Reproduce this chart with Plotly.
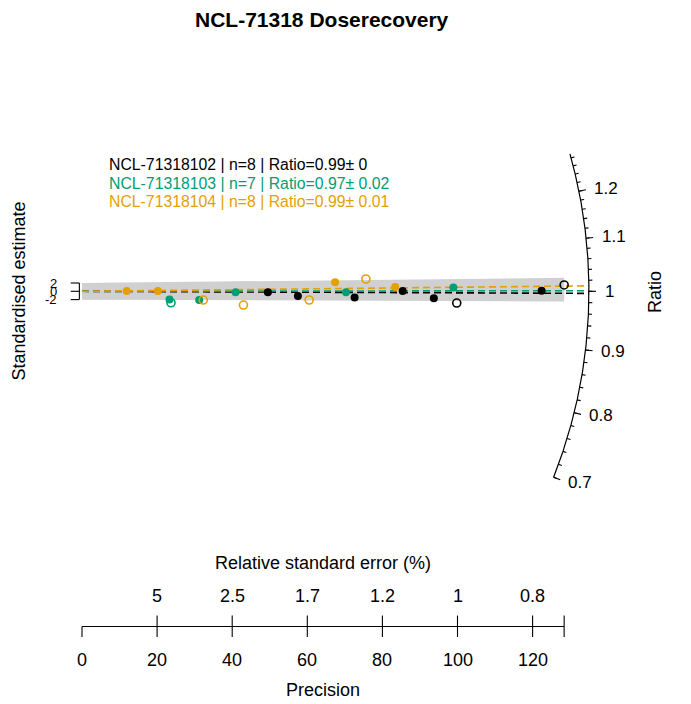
import numpy as np
import plotly.graph_objects as go

title = "NCL-71318 Doserecovery"
sample_names = ["NCL-71318102", "NCL-71318103", "NCL-71318104"]
sample_colors = ["black", "#009E73", "#E69F00"]
sample_n = [8, 7, 8]
ratio_mean = ["0.99", "0.97", "0.99"]
ratio_sd = ["0", "0.02", "0.01"]

# precision (1 / relative standard error), measured/given ratio, filled symbol or not
prec_102 = [49.5, 57.5, 72.6, 85.4, 93.7, 122.4, 99.8, 128.4]
ratio_102 = [0.995, 0.981, 0.980, 1.001, 0.982, 1.001, 0.972, 1.012]
filled_102 = [1, 1, 1, 1, 1, 1, 0, 0]

prec_103 = [23.3, 23.7, 31.2, 40.9, 70.3, 98.9]
ratio_103 = [0.919, 0.890, 0.935, 0.994, 0.9965, 1.009]
filled_103 = [1, 0, 1, 1, 1, 1]

prec_104 = [11.9, 20.2, 67.4, 83.4, 32.3, 43.0, 60.5, 75.6]
ratio_104 = [1.006, 1.0036, 1.033, 1.0126, 0.937, 0.926, 0.966, 1.040]
filled_104 = [1, 1, 1, 1, 0, 0, 0, 0]

# weighted central values (dashed lines)
central_ratio = [0.9963, 1.0011, 1.0098]
central_global = 1.0

# z-axis (ratio) ticks on the arc
z_major = [0.7, 0.8, 0.9, 1.0, 1.1, 1.2]
z_major_lab = ["0.7", "0.8", "0.9", "1", "1.1", "1.2"]
z_minor = list(np.round(np.arange(0.70, 1.2801, 0.02), 2))
z_arc_range = (0.70, 1.29)

# precision axis ticks
x_ticks = [0, 20, 40, 60, 80, 100, 120]

precs = [prec_102, prec_103, prec_104]
ratios = [ratio_102, ratio_103, ratio_104]
filleds = [filled_102, filled_103, filled_104]

OFF = 8                      # page body margin
W, H = 691 - OFF, 704 - OFF
x0_px, sx = 82.0 - OFF, 3.755   # px of precision 0, px per precision unit
y0_px, sy = 291.3 - OFF, 4.15   # px of standardised estimate 0, px per unit
R = 135.0                       # arc radius in precision units
f = sy / sx
z0 = np.log(central_global)

x_range = [-x0_px / sx, (W - x0_px) / sx]
y_range = [(y0_px - H) / sy, y0_px / sy]


def arc(r):
    d = np.log(np.asarray(r, dtype=float)) - z0
    x = R / np.sqrt(1 + (f * d) ** 2)
    return x, d * x


def py(px):
    return 1 - (px - OFF) / H


def pxx(px):
    return (px - OFF) / W


FONT = "Liberation Sans, Arial, sans-serif"
fig = go.Figure()

x_max = max(max(p) for p in precs)

# 2-sigma polygons
for c in central_ratio:
    d = np.log(c) - z0
    fig.add_trace(go.Scatter(
        x=[0, 0, x_max, x_max, 0], y=[-2, 2, d * x_max + 2, d * x_max - 2, -2],
        mode="lines", fill="toself", fillcolor="#D0D0D0",
        line=dict(width=0), hoverinfo="skip", showlegend=False))

# central lines
for c, col in zip(central_ratio, sample_colors):
    ax, ay = arc(c)
    fig.add_trace(go.Scatter(
        x=[0, float(ax)], y=[0, float(ay)], mode="lines",
        line=dict(color=col, width=1.6, dash="7px,4px"),
        hoverinfo="skip", showlegend=False))

# points
for p, r, fl, col in zip(precs, ratios, filleds, sample_colors):
    p = np.array(p)
    y = (np.log(np.array(r)) - z0) * p
    fl = np.array(fl, dtype=bool)
    fig.add_trace(go.Scatter(
        x=p[fl], y=y[fl], mode="markers",
        marker=dict(color=col, size=8, symbol="circle"), showlegend=False))
    fig.add_trace(go.Scatter(
        x=p[~fl], y=y[~fl], mode="markers",
        marker=dict(color=col, size=8, symbol="circle-open", line=dict(width=1.6, color=col)),
        showlegend=False))

# arc axis
vals = np.linspace(z_arc_range[0], z_arc_range[1], 300)
ax, ay = arc(vals)
fig.add_trace(go.Scatter(x=ax, y=ay, mode="lines", line=dict(color="black", width=1.2),
                         hoverinfo="skip", showlegend=False))
tx, ty = [], []
for v in z_minor:
    a, b = arc(v)
    tx += [float(a), float(a) * 1.007, None]
    ty += [float(b), float(b) * 1.007, None]
for v in z_major:
    a, b = arc(v)
    tx += [float(a), float(a) * 1.014, None]
    ty += [float(b), float(b) * 1.014, None]
fig.add_trace(go.Scatter(x=tx, y=ty, mode="lines", line=dict(color="black", width=1.1),
                         hoverinfo="skip", showlegend=False))
for v, lab in zip(z_major, z_major_lab):
    a, b = arc(v)
    fig.add_annotation(x=float(a) * 1.027, y=float(b) * 1.027, text=lab, showarrow=False,
                       xanchor="left", yanchor="middle",
                       font=dict(size=17, color="black", family=FONT))

# y axis (standardised estimate), only -2..2
fig.add_trace(go.Scatter(
    x=[-0.7, -0.7, None, -3.0, -0.7, None, -3.0, -0.7, None, -3.0, -0.7],
    y=[-2, 2, None, -2, -2, None, 0, 0, None, 2, 2],
    mode="lines", line=dict(color="black", width=1.1), hoverinfo="skip", showlegend=False))
for v in [-2, 0, 2]:
    fig.add_annotation(x=-6.0, y=v, text=str(v), showarrow=False,
                       xanchor="right", yanchor="middle",
                       font=dict(size=13, color="black", family=FONT))

# bottom precision axis
axis_y = py(626.5)
fig.add_shape(type="line", xref="x", yref="paper", x0=0, x1=x_max, y0=axis_y, y1=axis_y,
              line=dict(color="black", width=1.1))
for t in x_ticks + [x_max]:
    fig.add_shape(type="line", xref="x", yref="paper", x0=t, x1=t, y0=axis_y, y1=py(637),
                  line=dict(color="black", width=1.1))
for t in x_ticks:
    fig.add_annotation(x=t, y=py(660), xref="x", yref="paper", text=str(t), showarrow=False,
                       xanchor="center", yanchor="middle",
                       font=dict(size=18, color="black", family=FONT))
for t in x_ticks[1:] + [x_max]:
    fig.add_shape(type="line", xref="x", yref="paper", x0=t, x1=t, y0=axis_y, y1=py(615.5),
                  line=dict(color="black", width=1.1))
for t in x_ticks[1:]:
    rse = round(100 / t, 1)
    lab = f"{rse:g}"
    fig.add_annotation(x=t, y=py(596), xref="x", yref="paper", text=lab, showarrow=False,
                       xanchor="center", yanchor="middle",
                       font=dict(size=18, color="black", family=FONT))

fig.add_annotation(x=x_max / 2, y=py(562.5), xref="x", yref="paper",
                   text="Relative standard error (%)", showarrow=False,
                   xanchor="center", yanchor="middle",
                   font=dict(size=18, color="black", family=FONT))
fig.add_annotation(x=x_max / 2, y=py(690), xref="x", yref="paper",
                   text="Precision", showarrow=False,
                   xanchor="center", yanchor="middle",
                   font=dict(size=18, color="black", family=FONT))
fig.add_annotation(x=pxx(18), y=py(291.5), xref="paper", yref="paper",
                   text="Standardised estimate", showarrow=False, textangle=-90,
                   xanchor="center", yanchor="middle",
                   font=dict(size=18, color="black", family=FONT))
fig.add_annotation(x=pxx(655), y=py(292), xref="paper", yref="paper",
                   text="Ratio", showarrow=False, textangle=-90,
                   xanchor="center", yanchor="middle",
                   font=dict(size=18, color="black", family=FONT))

# legend text
for i, (nm, col, n, m, s) in enumerate(zip(sample_names, sample_colors, sample_n, ratio_mean, ratio_sd)):
    fig.add_annotation(x=pxx(107), y=py(165 + 18.3 * i), xref="paper", yref="paper",
                       text=f"{nm} | n={n} | Ratio={m}\u00b1 {s}", showarrow=False,
                       xanchor="left", yanchor="middle",
                       font=dict(size=15.8, color=col, family=FONT))

fig.add_annotation(x=pxx(322), y=py(19.5), xref="paper", yref="paper",
                   text=f"<b>{title}</b>", showarrow=False,
                   xanchor="center", yanchor="middle",
                   font=dict(size=21, color="black", family=FONT))

fig.update_layout(
    width=W, height=H, margin=dict(l=0, r=0, t=0, b=0),
    plot_bgcolor="white", paper_bgcolor="white", showlegend=False,
    xaxis=dict(range=x_range, visible=False, fixedrange=True),
    yaxis=dict(range=y_range, visible=False, fixedrange=True),
)

fig.write_html("out.html")
